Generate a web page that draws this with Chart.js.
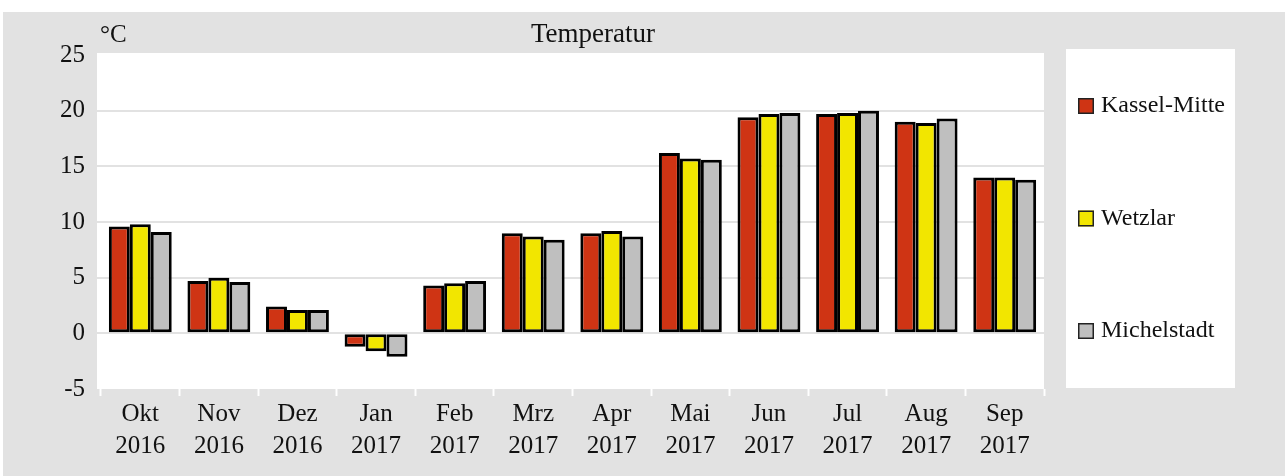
<!DOCTYPE html>
<html>
<head>
<meta charset="utf-8">
<script src="https://cdn.jsdelivr.net/npm/chart.js@4"></script>
<style>
  body { margin: 0; background: #fff; }
  canvas { display: block; }
</style>
</head>
<body>
<canvas id="tempChart" width="1285" height="476"></canvas>
<script>
const months = [['Okt', '2016'], ['Nov', '2016'], ['Dez', '2016'], ['Jan', '2017'], ['Feb', '2017'], ['Mrz', '2017'],
    ['Apr', '2017'], ['Mai', '2017'], ['Jun', '2017'], ['Jul', '2017'], ['Aug', '2017'], ['Sep', '2017']];
const kassel = [9.6, 4.7, 2.4, -1.2, 4.3, 9.0, 9.0, 16.2, 19.4, 19.7, 19.0, 14.0];
const wetzlar = [9.8, 5.0, 2.1, -1.6, 4.5, 8.7, 9.2, 15.7, 19.7, 19.8, 18.9, 14.0];
const michelstadt = [9.1, 4.6, 2.1, -2.1, 4.7, 8.4, 8.7, 15.6, 19.8, 20.0, 19.3, 13.8];
const yMin = -5, yMax = 25, yStep = 5;

const FONT = '"Liberation Serif", "DejaVu Serif", serif';
const gray = '#e2e2e2';

const frame = {
    id: 'frame',
    beforeDraw(chart) {
        const ctx = chart.ctx, a = chart.chartArea;
        ctx.save();
        ctx.fillStyle = '#fff';
        ctx.fillRect(0, 0, chart.width, chart.height);
        ctx.fillStyle = gray;
        ctx.fillRect(3, 12, chart.width - 3, chart.height - 12);
        ctx.fillStyle = '#fff';
        ctx.fillRect(a.left - 4, a.top - 2, a.right - a.left + 4, a.bottom - a.top + 2);
        ctx.fillRect(1066, 49, 169, 339);
        ctx.restore();
    },
    afterDraw(chart) {
        const ctx = chart.ctx;
        ctx.save();
        ctx.fillStyle = '#111';
        ctx.font = '27px ' + FONT;
        ctx.textAlign = 'center';
        ctx.textBaseline = 'alphabetic';
        ctx.fillText('Temperatur', 593, 42);
        ctx.font = '25px ' + FONT;
        ctx.textAlign = 'left';
        ctx.fillText('°C', 100, 42);
        // legend
        ctx.font = '24px ' + FONT;
        chart.data.datasets.forEach((ds, i) => {
            const y = 98 + i * 112.5;
            ctx.fillStyle = ds.backgroundColor;
            ctx.fillRect(1078, y, 16, 16);
            ctx.strokeStyle = '#222';
            ctx.lineWidth = 1.5;
            ctx.strokeRect(1078.75, y + 0.75, 14.5, 14.5);
            ctx.fillStyle = '#111';
            ctx.fillText(ds.label, 1101, y + 14);
        });
        ctx.restore();
    }
};

const hideEdge = c => (c.tick && (c.tick.value === yMax || c.tick.value === yMin)) ? 'rgba(0,0,0,0)' : gray;

new Chart(document.getElementById('tempChart'), {
    type: 'bar',
    data: {
        labels: months,
        datasets: [
            { label: 'Kassel-Mitte', data: kassel, backgroundColor: '#cf3414' },
            { label: 'Wetzlar', data: wetzlar, backgroundColor: '#f2e600' },
            { label: 'Michelstadt', data: michelstadt, backgroundColor: '#bfbfbf' }
        ]
    },
    options: {
        responsive: false,
        animation: false,
        layout: { padding: { top: 55, right: 241, bottom: 0, left: 0 } },
        datasets: {
            bar: {
                borderColor: '#000',
                borderWidth: 3,
                borderSkipped: false,
                categoryPercentage: 0.8,
                barPercentage: 1
            }
        },
        plugins: {
            legend: { display: false },
            title: { display: false },
            tooltip: { enabled: false }
        },
        scales: {
            x: {
                afterFit: s => { s.height = 87; },
                grid: { drawOnChartArea: false, drawTicks: true, tickLength: 7, tickColor: '#fff', tickWidth: 2 },
                border: { display: false },
                ticks: { color: '#111', font: { family: FONT, size: 25, lineHeight: 1.28 }, padding: 2, maxRotation: 0 }
            },
            y: {
                min: yMin,
                max: yMax,
                afterFit: s => { s.width = 101; },
                grid: { color: hideEdge, lineWidth: 2, drawTicks: true, tickLength: 4, tickColor: hideEdge },
                border: { display: false },
                ticks: { stepSize: yStep, color: '#111', font: { family: FONT, size: 25 }, padding: 12 }
            }
        }
    },
    plugins: [frame]
});
</script>
</body>
</html>
